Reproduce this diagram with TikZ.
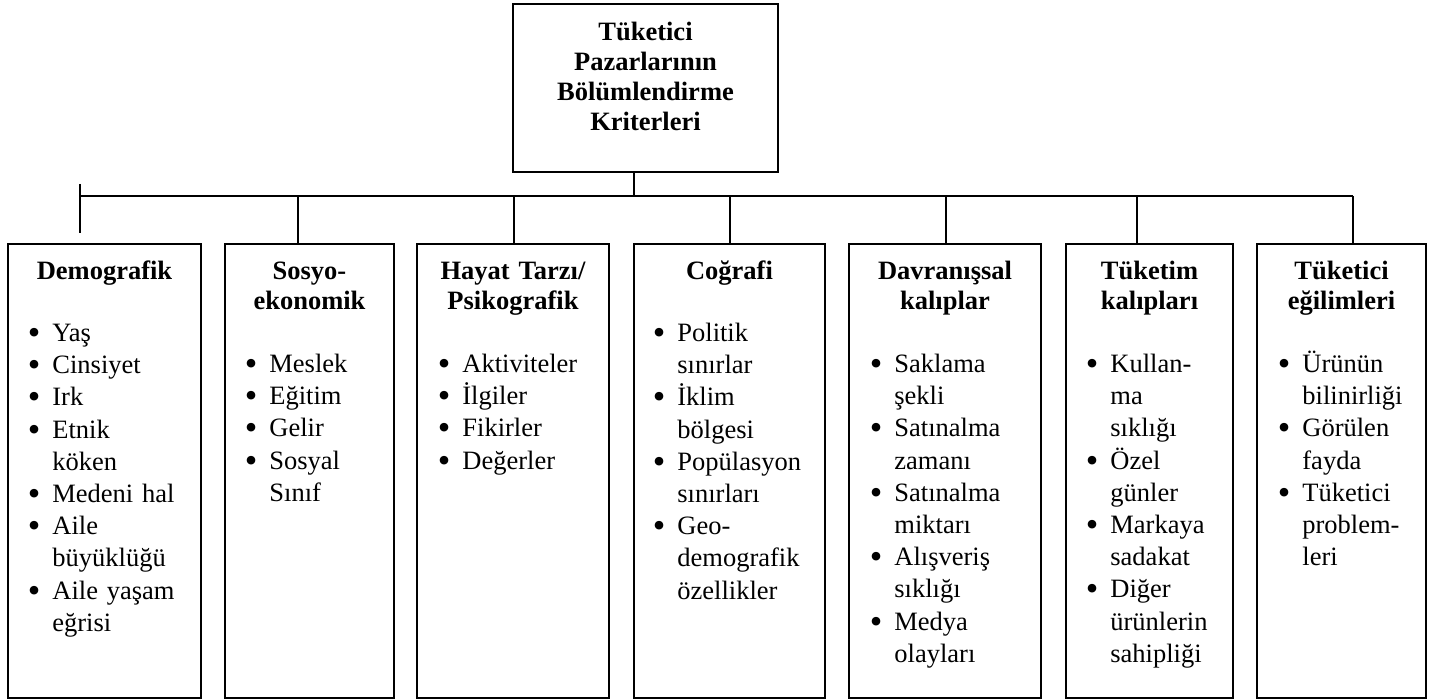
\documentclass[tikz,border=0pt]{standalone}
\usepackage{fontspec}
\usepackage{graphicx}
\setmainfont{Liberation Serif}
\usetikzlibrary{positioning}

\newcommand{\bul}{\leavevmode\llap{\smash{\raisebox{-3pt}{\scalebox{1.35}{\textbullet}}}\hspace{12pt}}}

\tikzset{
	catbox/.style={draw, line width=1.6pt, inner sep=0pt},
	cathead/.style={anchor=north, inner sep=0pt, align=center, text width=190pt,
		font=\bfseries\fontsize{26.5}{30}\selectfont},
	catlist/.style={anchor=north west, inner sep=0pt, align=left, text width=140pt,
		font=\fontsize{26.5}{32.2}\selectfont},
	link/.style={line width=1.6pt}
}

\begin{document}
\begin{tikzpicture}[x=1pt,y=-1pt]
	\useasboundingbox (0,0) rectangle (1434,700);

	\node[catbox, minimum width=265pt, minimum height=168pt] (root) at (645.5,88) {};
	\node[cathead] (root-h) at ([yshift=-16pt]root.north) {\strut T\"uketici\\Pazarlar\i n\i n\\B\"ol\"umlendirme\\Kriterleri};

	\node[catbox, minimum width=193pt, minimum height=454pt] (demo) at (104.5,471) {};
	\node[catbox, minimum width=169pt, minimum height=454pt] (socio) at (309.5,471) {};
	\node[catbox, minimum width=192pt, minimum height=454pt] (life) at (513,471) {};
	\node[catbox, minimum width=191pt, minimum height=454pt] (geo) at (729.5,471) {};
	\node[catbox, minimum width=192pt, minimum height=454pt] (behav) at (945,471) {};
	\node[catbox, minimum width=167pt, minimum height=454pt] (cons) at (1149.5,471) {};
	\node[catbox, minimum width=169pt, minimum height=454pt] (tend) at (1341.5,471) {};

	% headings
	\node[cathead] (demo-h) at ([yshift=-15pt]demo.north) {\strut Demografik};
	\node[cathead] (socio-h) at ([yshift=-15pt]socio.north) {\strut Sosyo-\\ekonomik};
	\node[cathead] (life-h) at ([yshift=-15pt]life.north) {\strut Hayat Tarzı/\\Psikografik};
	\node[cathead] (geo-h) at ([yshift=-15pt]geo.north) {\strut Coğrafi};
	\node[cathead] (behav-h) at ([yshift=-15pt]behav.north) {\strut Davranışsal\\kalıplar};
	\node[cathead] (cons-h) at ([yshift=-15pt]cons.north) {\strut Tüketim\\kalıpları};
	\node[cathead] (tend-h) at ([yshift=-15pt]tend.north) {\strut Tüketici\\eğilimleri};

	% lists
	\node[catlist] (demo-l) at ([xshift=45pt,yshift=-75.5pt]demo.north west)
		{\strut\bul Yaş\\\bul Cinsiyet\\\bul Irk\\\bul Etnik\\köken\\\bul Medeni hal\\\bul Aile\\büyüklüğü\\\bul Aile yaşam\\eğrisi};
	\node[catlist] (socio-l) at ([xshift=45pt,yshift=-106.5pt]socio.north west)
		{\strut\bul Meslek\\\bul Eğitim\\\bul Gelir\\\bul Sosyal\\Sınıf};
	\node[catlist] (life-l) at ([xshift=46pt,yshift=-106.5pt]life.north west)
		{\strut\bul Aktiviteler\\\bul İlgiler\\\bul Fikirler\\\bul Değerler};
	\node[catlist] (geo-l) at ([xshift=44pt,yshift=-75.5pt]geo.north west)
		{\strut\bul Politik\\sınırlar\\\bul İklim\\bölgesi\\\bul Popülasyon\\sınırları\\\bul Geo-\\demografik\\özellikler};
	\node[catlist] (behav-l) at ([xshift=46pt,yshift=-106.5pt]behav.north west)
		{\strut\bul Saklama\\şekli\\\bul Satınalma\\zamanı\\\bul Satınalma\\miktarı\\\bul Alışveriş\\sıklığı\\\bul Medya\\olayları};
	\node[catlist] (cons-l) at ([xshift=45pt,yshift=-106.5pt]cons.north west)
		{\strut\bul Kullan-\\ma\\sıklığı\\\bul Özel\\günler\\\bul Markaya\\sadakat\\\bul Diğer\\ürünlerin\\sahipliği};
	\node[catlist] (tend-l) at ([xshift=46pt,yshift=-106.5pt]tend.north west)
		{\strut\bul Ürünün\\bilinirliği\\\bul Görülen\\fayda\\\bul Tüketici\\problem-\\leri};

	% connectors
	\coordinate (hub) at (634,196);
	\coordinate (barL) at (80,196);
	\coordinate (barR) at (1353,196);
	\coordinate (tickT) at (80,184);
	\coordinate (tickB) at (80,233);
	\draw[link] (root.south -| hub) -- (hub);
	\draw[link] (barL) -- (barR);
	\draw[link] (tickT) -- (tickB);
	\foreach \x/\b in {298/socio, 514/life, 730/geo, 946/behav, 1137/cons, 1353/tend} {
		\coordinate (d-\b) at (\x,196);
		\draw[link] (d-\b) -- (d-\b |- \b.north);
	}
\end{tikzpicture}
\end{document}
